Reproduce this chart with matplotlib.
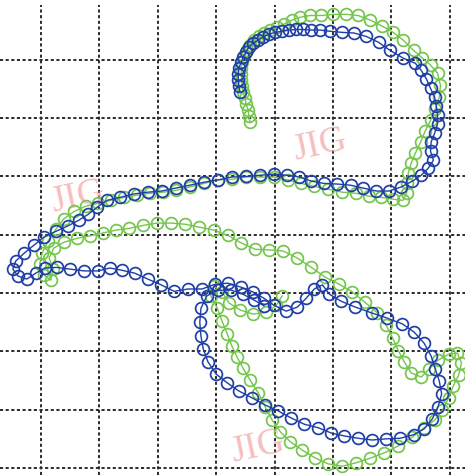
import matplotlib
matplotlib.use("Agg")
import matplotlib.pyplot as plt
import numpy as np

# ── trajectory data (grid units, one grid cell = 1) ──────────────────────────
blue_x = [3.41, 3.39, 3.38, 3.38, 3.39, 3.43, 3.46, 3.51, 3.56, 3.63, 3.72, 3.80, 3.91, 4.01,
          4.13, 4.25, 4.37, 4.49, 4.63, 4.78, 4.95, 5.16, 5.36, 5.57, 5.78, 5.98, 6.20, 6.41,
          6.51, 6.60, 6.67, 6.74, 6.77, 6.79, 6.79, 6.74, 6.68, 6.67, 6.72, 6.63, 6.51, 6.36,
          6.17, 5.96, 5.74, 5.52, 5.30, 5.07, 4.85, 4.63, 4.42, 4.22, 3.99, 3.75, 3.51, 3.27,
          3.03, 2.79, 2.55, 2.31, 2.07, 1.83, 1.59, 1.35, 1.13, 0.96, 0.81, 0.65, 0.46, 0.26,
          0.05, -0.12, -0.29, -0.43, -0.48, -0.39, -0.24, -0.09, 0.07, 0.27, 0.50, 0.74, 0.98,
          1.18, 1.39, 1.61, 1.83, 2.06, 2.28, 2.52, 2.76, 2.98, 3.20, 3.43, 3.63, 3.82, 3.99,
          4.20, 4.39, 4.54, 4.68, 4.82, 4.94, 5.14, 5.38, 5.66, 5.93, 6.19, 6.39, 6.56, 6.68,
          6.75, 6.82, 6.86, 6.80, 6.70, 6.56, 6.38, 6.15, 5.91, 5.67, 5.43, 5.19, 4.97, 4.75,
          4.51, 4.28, 4.06, 3.84, 3.62, 3.39, 3.19, 3.00, 2.86, 2.78, 2.74, 2.72, 2.74, 2.84,
          3.03, 3.26, 3.46, 3.65, 3.82]
blue_y = [6.44, 6.55, 6.65, 6.75, 6.86, 6.96, 7.04, 7.13, 7.22, 7.28, 7.34, 7.39, 7.44, 7.47,
          7.49, 7.51, 7.52, 7.52, 7.51, 7.51, 7.49, 7.47, 7.46, 7.40, 7.30, 7.16, 7.03, 6.94,
          6.82, 6.67, 6.51, 6.36, 6.20, 6.05, 5.90, 5.74, 5.59, 5.43, 5.28, 5.14, 5.02, 4.92,
          4.82, 4.75, 4.75, 4.80, 4.85, 4.87, 4.88, 4.92, 4.99, 5.02, 5.04, 5.02, 5.00, 4.99,
          4.94, 4.90, 4.85, 4.80, 4.75, 4.73, 4.70, 4.64, 4.59, 4.47, 4.35, 4.25, 4.15, 4.06,
          3.96, 3.82, 3.68, 3.55, 3.41, 3.29, 3.24, 3.34, 3.43, 3.44, 3.41, 3.38, 3.38,
          3.43, 3.39, 3.34, 3.24, 3.14, 3.03, 3.07, 3.07, 3.15, 3.17, 3.10, 3.02, 2.91, 2.79,
          2.69, 2.76, 2.91, 3.07, 3.14, 2.98, 2.86, 2.76, 2.66, 2.57, 2.47, 2.33, 2.14, 1.92,
          1.70, 1.49, 1.27, 1.05, 0.84, 0.67, 0.57, 0.51, 0.50, 0.48, 0.51, 0.55, 0.60, 0.69,
          0.75, 0.86, 0.98, 1.08, 1.20, 1.32, 1.46, 1.61, 1.82, 2.04, 2.26, 2.50, 2.74, 2.95,
          3.05, 3.05, 2.98, 2.88, 2.78]

green_x = [3.58, 3.56, 3.55, 3.51, 3.50, 3.46, 3.44, 3.43, 3.43, 3.43, 3.44, 3.48, 3.53, 3.58,
           3.65, 3.74, 3.82, 3.92, 4.04, 4.16, 4.30, 4.44, 4.61, 4.80, 5.00, 5.23, 5.43, 5.64,
           5.84, 6.03, 6.20, 6.38, 6.53, 6.67, 6.79, 6.84, 6.82, 6.75, 6.67, 6.58, 6.50, 6.41,
           6.34, 6.29, 6.27, 6.26, 6.20, 6.03, 5.83, 5.62, 5.40, 5.16, 4.92, 4.68, 4.46, 4.23,
           3.99, 3.75, 3.51, 3.27, 3.03, 2.79, 2.55, 2.31, 2.09, 1.87, 1.65, 1.42, 1.20, 0.98,
           0.77, 0.57, 0.39, 0.26, 0.12, 0.02, -0.02, 0.05, 0.17, 0.21, 0.14, 0.22, 0.39, 0.62,
           0.84, 1.06, 1.29, 1.51, 1.75, 1.99, 2.23, 2.47, 2.71, 2.96, 3.20, 3.43, 3.67, 3.91,
           4.15, 4.39, 4.63, 4.87, 5.11, 5.33, 5.55, 5.76, 5.91, 6.02, 6.12, 6.22, 6.34, 6.51,
           6.65, 6.80, 6.98, 7.13, 7.20, 7.15, 7.06, 6.98, 6.87, 6.74, 6.56, 6.36, 6.12, 5.88,
           5.64, 5.40, 5.16, 4.92, 4.70, 4.47, 4.27, 4.10, 3.96, 3.84, 3.72, 3.58, 3.46, 3.36,
           3.27, 3.19, 3.10, 3.02, 2.91, 2.96, 3.10, 3.22, 3.41, 3.63, 3.86, 4.03, 4.13]
green_y = [5.93, 6.03, 6.14, 6.24, 6.34, 6.44, 6.55, 6.65, 6.75, 6.86, 6.96, 7.06, 7.16, 7.25,
           7.34, 7.40, 7.46, 7.51, 7.56, 7.61, 7.68, 7.73, 7.76, 7.76, 7.78, 7.78, 7.76, 7.68,
           7.58, 7.47, 7.34, 7.16, 7.03, 6.91, 6.77, 6.56, 6.36, 6.15, 5.96, 5.78, 5.59, 5.40,
           5.23, 5.06, 4.88, 4.71, 4.59, 4.61, 4.64, 4.66, 4.71, 4.73, 4.78, 4.83, 4.88, 4.94,
           4.99, 4.99, 4.99, 4.95, 4.94, 4.88, 4.82, 4.76, 4.73, 4.71, 4.68, 4.64, 4.59, 4.54,
           4.49, 4.40, 4.27, 4.10, 3.89, 3.68, 3.50, 3.31, 3.22, 3.41, 3.60, 3.77, 3.87, 3.94,
           3.98, 4.03, 4.08, 4.11, 4.16, 4.20, 4.20, 4.18, 4.13, 4.08, 3.99, 3.86, 3.75, 3.74,
           3.72, 3.60, 3.44, 3.27, 3.15, 3.02, 2.84, 2.66, 2.45, 2.23, 2.01, 1.82, 1.63, 1.56,
           1.70, 1.85, 1.95, 1.97, 1.80, 1.59, 1.41, 1.20, 0.99, 0.82, 0.69, 0.53, 0.38, 0.26,
           0.17, 0.09, 0.03, 0.07, 0.17, 0.31, 0.45, 0.62, 0.82, 1.05, 1.29, 1.51, 1.71, 1.90,
           2.09, 2.30, 2.52, 2.74, 2.95, 3.12, 3.02, 2.83, 2.71, 2.64, 2.67, 2.79, 2.95]

# watermark stamps: (x, y) in grid units
stamp_x = [0.63, 4.78, 3.72]
stamp_y = [4.65, 5.53, 0.36]

BLUE = "#1f3ea8"
GREEN = "#74c64c"

fig = plt.figure(figsize=(4.65, 4.75), dpi=100)
ax = fig.add_axes([0, 0, 1, 470 / 475])

for sx, sy in zip(stamp_x, stamp_y):
    ax.text(sx, sy, "JIG", family="Liberation Serif", fontsize=27, color="#f08a8a",
            alpha=0.55, rotation=12, ha="center", va="center", zorder=1)

ax.plot(green_x, green_y, color=GREEN, lw=1.0, marker="o", ms=8.5, mfc="none",
        mec=GREEN, mew=1.25, zorder=3)
ax.plot(blue_x, blue_y, color=BLUE, lw=1.0, marker="o", ms=8.5, mfc="none",
        mec=BLUE, mew=1.25, zorder=4)

ax.set_xlim(-0.70, 7.26)
ax.set_ylim(-0.12, 7.94)
ax.set_xticks(np.arange(0, 8))
ax.set_yticks(np.arange(0, 8))
ax.grid(True, color="#2b2b2b", linestyle=(0, (1.6, 1.3)), linewidth=1.4, zorder=2)
ax.set_axisbelow(True)
ax.tick_params(length=0, labelbottom=False, labelleft=False)
for s in ax.spines.values():
    s.set_visible(False)

fig.savefig("out.png", dpi=100)
